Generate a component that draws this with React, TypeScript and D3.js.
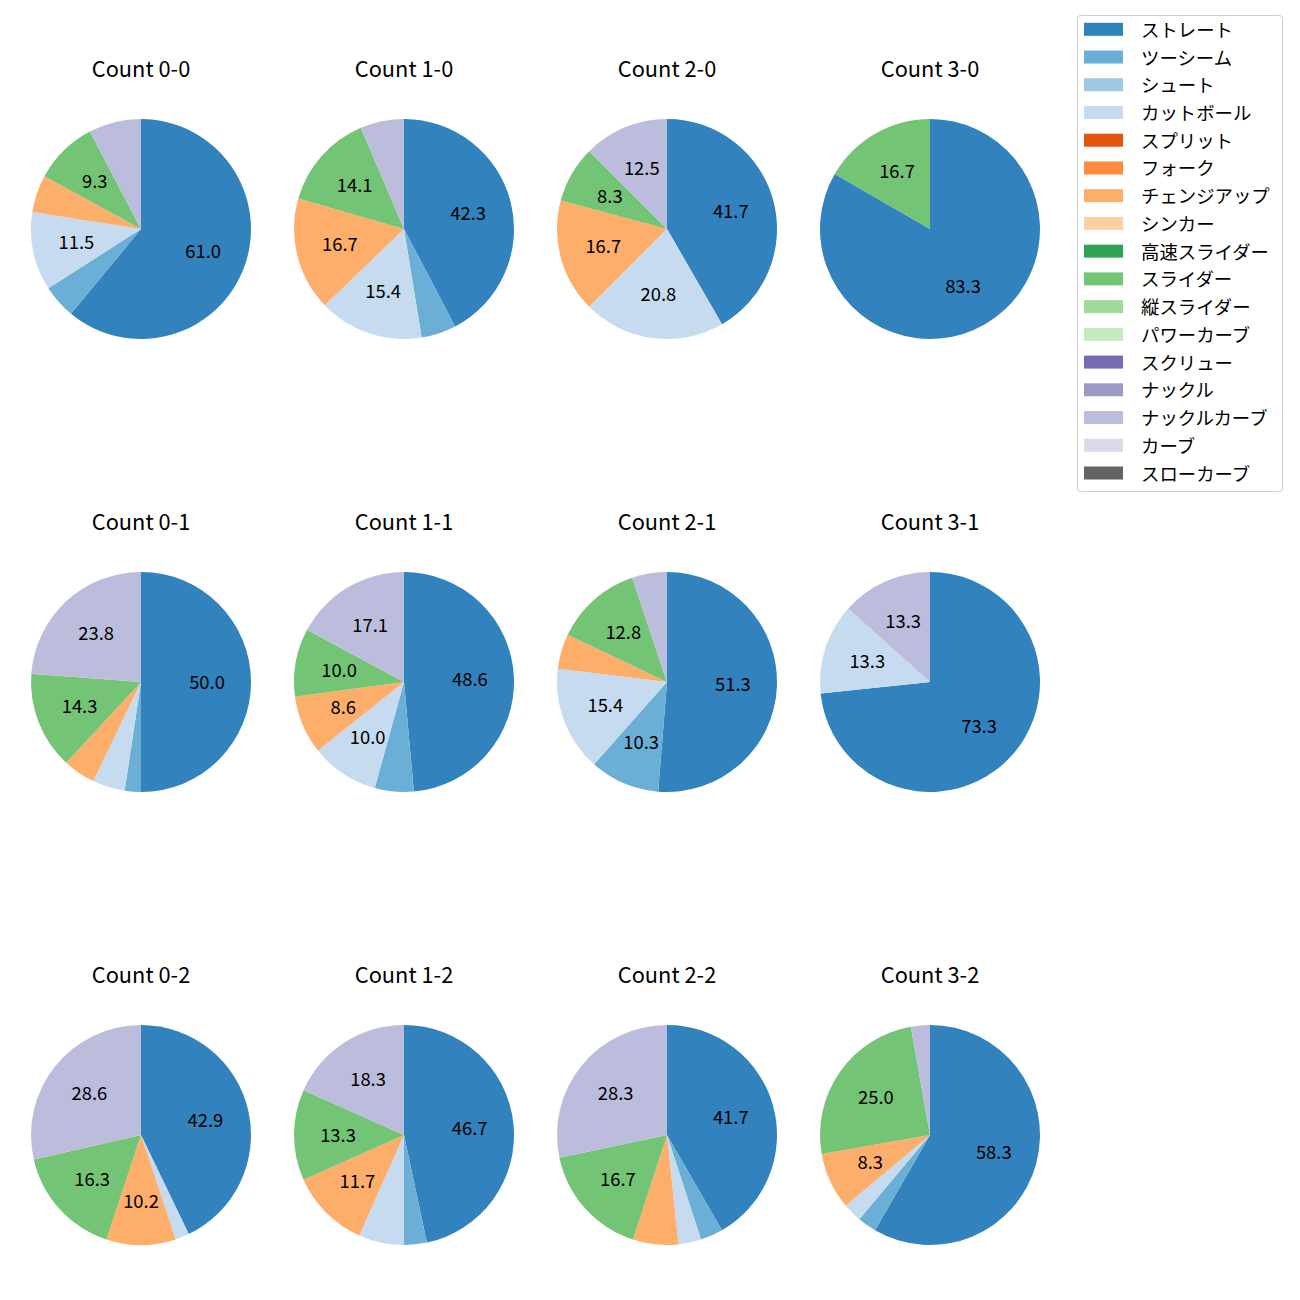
import React from "react";
import * as d3 from "d3";

const pitchTypes = [
  "ストレート", "ツーシーム", "シュート", "カットボール", "スプリット", "フォーク",
  "チェンジアップ", "シンカー", "高速スライダー", "スライダー", "縦スライダー",
  "パワーカーブ", "スクリュー", "ナックル", "ナックルカーブ", "カーブ", "スローカーブ",
];
const pitchColors = [
  "#3182bd", "#6baed6", "#9ecae1", "#c6dbef", "#e6550d", "#fd8d3c", "#fdae6b",
  "#fdd0a2", "#31a354", "#74c476", "#a1d99b", "#c7e9c0", "#756bb1", "#9e9ac8",
  "#bcbddc", "#dadaeb", "#636363",
];
const countLabels = [
  "Count 0-0", "Count 1-0", "Count 2-0", "Count 3-0",
  "Count 0-1", "Count 1-1", "Count 2-1", "Count 3-1",
  "Count 0-2", "Count 1-2", "Count 2-2", "Count 3-2",
];

// pitch counts per type, one entry per count situation (same order as countLabels)
const straight = [111, 33, 10, 5, 21, 34, 20, 11, 21, 28, 25, 21];
const twoSeam = [9, 4, 0, 0, 1, 4, 4, 0, 0, 2, 2, 1];
const shoot = [0, 0, 0, 0, 0, 0, 0, 0, 0, 0, 0, 0];
const cutter = [21, 12, 5, 0, 2, 7, 6, 2, 1, 4, 2, 1];
const split = [0, 0, 0, 0, 0, 0, 0, 0, 0, 0, 0, 0];
const fork = [0, 0, 0, 0, 0, 0, 0, 0, 0, 0, 0, 0];
const changeup = [10, 13, 4, 0, 2, 6, 2, 0, 5, 7, 4, 3];
const sinker = [0, 0, 0, 0, 0, 0, 0, 0, 0, 0, 0, 0];
const fastSlider = [0, 0, 0, 0, 0, 0, 0, 0, 0, 0, 0, 0];
const slider = [17, 11, 2, 1, 6, 7, 5, 0, 8, 8, 10, 9];
const vSlider = [0, 0, 0, 0, 0, 0, 0, 0, 0, 0, 0, 0];
const powerCurve = [0, 0, 0, 0, 0, 0, 0, 0, 0, 0, 0, 0];
const screw = [0, 0, 0, 0, 0, 0, 0, 0, 0, 0, 0, 0];
const knuckle = [0, 0, 0, 0, 0, 0, 0, 0, 0, 0, 0, 0];
const knuckleCurve = [14, 5, 3, 0, 10, 12, 2, 2, 14, 11, 17, 1];
const curve = [0, 0, 0, 0, 0, 0, 0, 0, 0, 0, 0, 0];
const slowCurve = [0, 0, 0, 0, 0, 0, 0, 0, 0, 0, 0, 0];

const series = [
  straight, twoSeam, shoot, cutter, split, fork, changeup, sinker, fastSlider,
  slider, vSlider, powerCurve, screw, knuckle, knuckleCurve, curve, slowCurve,
];

const FONT = "'Noto Sans CJK JP', 'Noto Sans', sans-serif";

export default function App() {
  const W = 1300, H = 1300;
  const R = 110;
  const colX = d3.scaleLinear().domain([0, 3]).range([141, 930]);
  const rowY = d3.scaleLinear().domain([0, 2]).range([229, 1135]);
  const pie = d3.pie<number>().sort(null).value((d) => d).startAngle(0).endAngle(2 * Math.PI);
  const arc = d3.arc<d3.PieArcDatum<number>>().innerRadius(0).outerRadius(R);
  const labelArc = d3.arc<d3.PieArcDatum<number>>().innerRadius(R * 0.6).outerRadius(R * 0.6);

  const legendY = d3.scaleLinear().domain([0, pitchTypes.length - 1]).range([29.3, 473]);

  return (
    <svg width={W} height={H} style={{ display: "block", margin: "-8px", background: "#fff" }} fontFamily={FONT}>
      <rect x={0} y={0} width={W} height={H} fill="#fff" />
      {countLabels.map((title, i) => {
        const cx = colX(i % 4);
        const cy = rowY(Math.floor(i / 4));
        const vals = series.map((s) => s[i]);
        const total = d3.sum(vals);
        const arcs = pie(vals);
        return (
          <g key={title}>
            <text x={cx} y={67 + (cy - 229)} textAnchor="middle" dominantBaseline="central" fontSize={21.8} fill="#000">
              {title}
            </text>
            <g transform={`translate(${cx},${cy})`}>
              {arcs.map((a, j) =>
                a.value > 0 ? <path key={j} d={arc(a) || ""} fill={pitchColors[j]} /> : null
              )}
              {arcs.map((a, j) => {
                const pct = (a.value / total) * 100;
                if (a.value <= 0 || pct < 8) return null;
                const [lx, ly] = labelArc.centroid(a);
                return (
                  <text key={"l" + j} x={lx} y={ly - 1.5} textAnchor="middle" dominantBaseline="central" fontSize={18.4} fill="#000">
                    {pct.toFixed(1)}
                  </text>
                );
              })}
            </g>
          </g>
        );
      })}
      <g>
        <rect x={1077.5} y={15.5} width={205} height={476} rx={3} fill="#fff" stroke="#cccccc" strokeWidth={1} />
        {pitchTypes.map((p, j) => (
          <g key={p}>
            <rect x={1084} y={legendY(j) - 6.5} width={39} height={13} fill={pitchColors[j]} />
            <text x={1141} y={legendY(j) - 0.5} dominantBaseline="central" fontSize={18.4} fill="#000">
              {p}
            </text>
          </g>
        ))}
      </g>
    </svg>
  );
}
